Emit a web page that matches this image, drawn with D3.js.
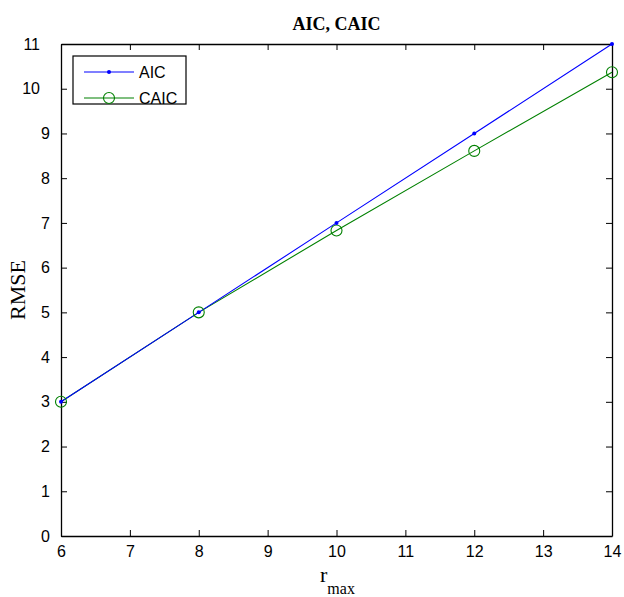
<!DOCTYPE html>
<html>
<head>
<meta charset="utf-8">
<script src="https://cdn.jsdelivr.net/npm/d3@7"></script>
<style>
  body { margin: 0; background: #fff; }
  .tick text { font-family: "Liberation Sans", Arial, sans-serif; font-size: 16px; fill: #000; }
</style>
</head>
<body>
<div id="chart"></div>
<script>
// data
var rmax = [6, 8, 10, 12, 14];
var aic = [3, 5, 7, 9, 11];
var caic = [3, 5, 6.83, 8.61, 10.37];
var xTicks = [6, 7, 8, 9, 10, 11, 12, 13, 14];
var yTicks = [0, 1, 2, 3, 4, 5, 6, 7, 8, 9, 10, 11];

var W = 624, H = 597;
var margin = {top: 44, right: 12, bottom: 61, left: 61},
    width = W - margin.left - margin.right,
    height = H - margin.top - margin.bottom;

var x = d3.scaleLinear().domain([6, 14]).range([0, width]);
var y = d3.scaleLinear().domain([0, 11]).range([height, 0]);

var svg = d3.select("#chart").append("svg")
    .attr("width", W).attr("height", H);

var g = svg.append("g")
    .attr("transform", "translate(" + margin.left + "," + margin.top + ")");

// axes, ticks pointing inwards on all four sides
var bottomAxis = g.append("g")
    .attr("transform", "translate(0," + height + ")")
    .call(d3.axisBottom(x).tickValues(xTicks).tickSize(-6).tickPadding(10).tickSizeOuter(0));
var topAxis = g.append("g")
    .call(d3.axisTop(x).tickValues(xTicks).tickSize(-6).tickFormat("").tickSizeOuter(0));
var leftAxis = g.append("g")
    .call(d3.axisLeft(y).tickValues(yTicks).tickSize(-6).tickPadding(11).tickSizeOuter(0));
var rightAxis = g.append("g")
    .attr("transform", "translate(" + width + ",0)")
    .call(d3.axisRight(y).tickValues(yTicks).tickSize(-6).tickFormat("").tickSizeOuter(0));

[bottomAxis, topAxis, leftAxis, rightAxis].forEach(function(a) {
  a.select(".domain").attr("stroke", "#000").attr("stroke-width", 1.3);
  a.selectAll(".tick line").attr("stroke", "#000");
});
// two-digit y labels sit further left in the original
leftAxis.selectAll(".tick text").attr("dx", function(d) { return d >= 10 ? -10 : 0; });

var line = d3.line()
    .x(function(d) { return x(d[0]); })
    .y(function(d) { return y(d[1]); });

var aicPts = rmax.map(function(r, i) { return [r, aic[i]]; });
var caicPts = rmax.map(function(r, i) { return [r, caic[i]]; });

g.append("path").attr("d", line(caicPts))
    .attr("fill", "none").attr("stroke", "#008000").attr("stroke-width", 1.1);
g.append("path").attr("d", line(aicPts))
    .attr("fill", "none").attr("stroke", "#0000ff").attr("stroke-width", 1.1);

g.selectAll(".caic-pt").data(caicPts).enter().append("circle")
    .attr("cx", function(d) { return x(d[0]); })
    .attr("cy", function(d) { return y(d[1]); })
    .attr("r", 5.5)
    .attr("fill", "none").attr("stroke", "#008000").attr("stroke-width", 1.1);
g.selectAll(".aic-pt").data(aicPts).enter().append("circle")
    .attr("cx", function(d) { return x(d[0]); })
    .attr("cy", function(d) { return y(d[1]); })
    .attr("r", 2)
    .attr("fill", "#0000ff");

// legend
var leg = svg.append("g").attr("transform", "translate(73,56)");
leg.append("rect").attr("width", 113).attr("height", 48)
    .attr("fill", "#fff").attr("stroke", "#000").attr("stroke-width", 1.2);
var items = [
  {name: "AIC", color: "#0000ff", dot: true},
  {name: "CAIC", color: "#008000", dot: false}
];
items.forEach(function(it, i) {
  var yy = 16 + i * 26;
  leg.append("line").attr("x1", 11).attr("x2", 61).attr("y1", yy).attr("y2", yy)
      .attr("stroke", it.color).attr("stroke-width", 1.1);
  if (it.dot) {
    leg.append("circle").attr("cx", 36).attr("cy", yy).attr("r", 2).attr("fill", it.color);
  } else {
    leg.append("circle").attr("cx", 36).attr("cy", yy).attr("r", 5.5)
        .attr("fill", "none").attr("stroke", it.color).attr("stroke-width", 1.1);
  }
  leg.append("text").attr("x", 66).attr("y", yy).attr("dy", "0.36em")
      .style("font-family", "Liberation Sans, Arial, sans-serif").style("font-size", "16px")
      .text(it.name);
});

// title and axis labels
svg.append("text").attr("x", margin.left + width / 2).attr("y", 30)
    .attr("text-anchor", "middle")
    .style("font-family", "Liberation Serif, Times New Roman, serif")
    .style("font-weight", "bold").style("font-size", "18px")
    .text("AIC, CAIC");

svg.append("text")
    .attr("transform", "translate(25," + (margin.top + height / 2) + ") rotate(-90)")
    .attr("text-anchor", "middle")
    .style("font-family", "Liberation Serif, Times New Roman, serif")
    .style("font-size", "22px")
    .text("RMSE");

var xl = svg.append("text").attr("x", 320).attr("y", 582)
    .style("font-family", "Liberation Serif, Times New Roman, serif")
    .style("font-size", "22px");
xl.append("tspan").text("r");
xl.append("tspan").attr("dy", 12).style("font-size", "16px").text("max");
</script>
</body>
</html>
